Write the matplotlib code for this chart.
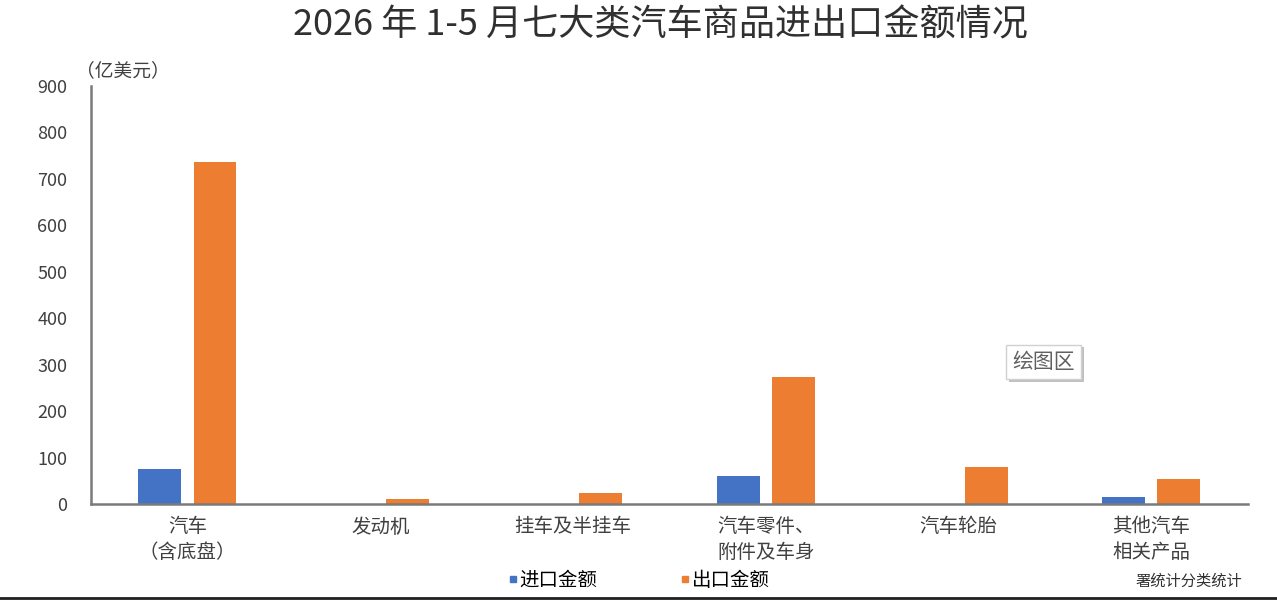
import numpy as np
import matplotlib.pyplot as plt
from matplotlib.lines import Line2D
import matplotlib.patheffects as pe

plt.rcParams['font.family'] = ['Noto Sans CJK SC', 'DejaVu Sans']

# data (亿美元)
categories = ['汽车\n（含底盘）', '发动机', '挂车及半挂车', '汽车零件、\n附件及车身', '汽车轮胎', '其他汽车\n相关产品']
imports = [75, 0, 0, 61, 0, 16]
exports = [736, 11, 23, 273, 79, 54]
yticks = [0, 100, 200, 300, 400, 500, 600, 700, 800, 900]

blue = '#4472C4'
orange = '#ED7D31'
grey_text = '#404040'

fig = plt.figure(figsize=(12.77, 6.02), dpi=100)
ax = fig.add_axes([0.0713, 0.1628, 0.9057, 0.6944])

x = np.arange(len(categories))
w = 0.223
off = 0.143
ax.bar(x - off, imports, width=w, color=blue, label='进口金额')
ax.bar(x + off, exports, width=w, color=orange, label='出口金额')

ax.set_xlim(-0.5, len(categories) - 0.5)
ax.set_ylim(0, 900)
ax.set_yticks(yticks)
ax.set_yticklabels([str(v) for v in yticks], fontsize=13, color=grey_text)
ax.set_xticks(x)
ax.set_xticklabels(categories, fontsize=14, color=grey_text, linespacing=1.3)
ax.tick_params(axis='both', length=0)
ax.tick_params(axis='y', pad=17)
ax.tick_params(axis='x', pad=9)

for s in ['top', 'right']:
    ax.spines[s].set_visible(False)
for s in ['left', 'bottom']:
    ax.spines[s].set_color('#7a7a7a')
    ax.spines[s].set_linewidth(1.8)

fig.text(0.517, 0.958, '2026 年 1-5 月七大类汽车商品进出口金额情况',
         ha='center', va='center', fontsize=26, color='#303030')
fig.text(0.096, 0.882, '（亿美元）', ha='center', va='center', fontsize=13.5, color=grey_text)

# legend
handles = [Line2D([], [], marker='s', linestyle='none', color=blue, markersize=5),
           Line2D([], [], marker='s', linestyle='none', color=orange, markersize=5)]
fig.legend(handles, ['进口金额', '出口金额'], loc='center', bbox_to_anchor=(0.5, 0.036),
           ncol=2, frameon=False, fontsize=14, handletextpad=0.05, columnspacing=4.2,
           handlelength=0.6)

# Excel tooltip left in the screenshot
fig.text(0.817, 0.399, '绘图区', ha='center', va='center', fontsize=15, color='#606060',
         bbox=dict(boxstyle='square,pad=0.3', facecolor='white', edgecolor='#d0d0d0',
                   linewidth=1.0, path_effects=[pe.withSimplePatchShadow(offset=(2, -2), alpha=0.35)]))

fig.text(0.973, 0.034, '署统计分类统计', ha='right', va='center', fontsize=11, color='#303030')

# frame line at bottom of screenshot
fig.add_artist(Line2D([0, 1], [0.006, 0.006], transform=fig.transFigure, color='#202020', linewidth=2))

fig.savefig('out.png', dpi=100, facecolor='white')
